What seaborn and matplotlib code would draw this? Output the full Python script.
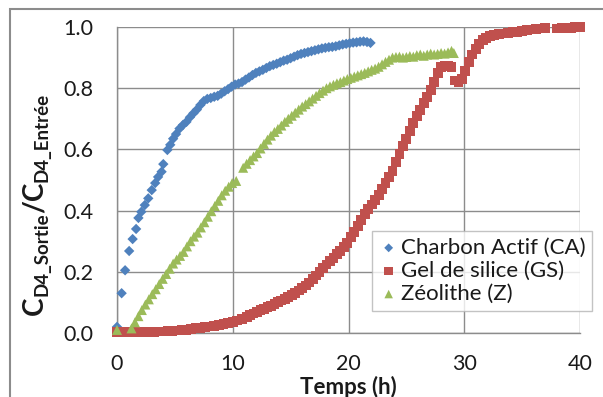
import matplotlib
matplotlib.use("Agg")
import matplotlib.pyplot as plt
from matplotlib.patches import Rectangle
import seaborn as sns
import pandas as pd

# ---------------- data ----------------
ca_t = [0.0, 0.4, 0.7, 1.05, 1.35, 1.65, 1.85, 2.1, 2.4, 2.7, 3.0, 3.3, 3.55, 3.85, 4.0,
        4.35, 4.6, 4.85, 5.1, 5.4, 5.7, 6.0, 6.3, 6.6, 6.9, 7.2, 7.5, 7.8, 8.1, 8.4, 8.7,
        9.0, 9.3, 9.6, 9.9, 10.2, 10.5, 10.8, 11.1, 11.4, 11.7, 12.0, 12.3, 12.6, 12.9,
        13.2, 13.5, 13.8, 14.1, 14.4, 14.7, 15.0, 15.3, 15.6, 15.9, 16.2, 16.5, 16.8,
        17.1, 17.4, 17.7, 18.0, 18.3, 18.6, 18.9, 19.2, 19.5, 19.8, 20.1, 20.4, 20.7,
        21.0, 21.3, 21.6, 21.9]
ca_v = [0.02, 0.13, 0.205, 0.268, 0.307, 0.34, 0.376, 0.396, 0.418, 0.44, 0.467, 0.49, 0.51,
        0.527, 0.552, 0.598, 0.615, 0.635, 0.65, 0.668, 0.68, 0.69, 0.705, 0.718, 0.73,
        0.745, 0.758, 0.765, 0.768, 0.772, 0.775, 0.782, 0.79, 0.797, 0.805, 0.812, 0.815,
        0.82, 0.828, 0.835, 0.843, 0.85, 0.855, 0.86, 0.866, 0.872, 0.876, 0.88, 0.885,
        0.89, 0.893, 0.898, 0.903, 0.908, 0.912, 0.915, 0.918, 0.921, 0.924, 0.927, 0.93,
        0.932, 0.934, 0.935, 0.937, 0.94, 0.943, 0.945, 0.947, 0.949, 0.95, 0.952, 0.953,
        0.951, 0.948]

gs_t = [0.0, 0.4, 0.8, 1.2, 1.6, 2.0, 2.4, 2.8, 3.2, 3.6, 4.0, 4.4, 4.8, 5.2, 5.6, 6.0, 6.4,
        6.8, 7.2, 7.6, 8.0, 8.4, 8.8, 9.2, 9.6, 10.0, 10.4, 10.8, 11.2, 11.5, 11.8, 12.1,
        12.4, 12.7, 13.0, 13.3, 13.6, 13.9, 14.2, 14.5, 14.8, 15.1, 15.4, 15.7, 16.0, 16.3,
        16.6, 16.9, 17.2, 17.5, 17.8, 18.1, 18.4, 18.7, 19.0, 19.3, 19.6, 19.9, 20.2, 20.5,
        20.8, 21.1, 21.4, 21.7, 22.0, 22.3, 22.6, 22.9, 23.2, 23.5, 23.8, 24.1, 24.4, 24.7,
        25.0, 25.3, 25.6, 25.9, 26.2, 26.5, 26.8, 27.1, 27.4, 27.7, 28.0, 28.3, 28.6, 28.9,
        29.2, 29.5, 29.8, 30.1, 30.4, 30.7, 31.0, 31.3, 31.6, 31.9, 32.2, 32.6, 33.0, 33.4,
        33.8, 34.2, 34.6, 35.0, 35.4, 35.8, 36.2, 36.6, 37.0, 38.0, 38.4, 38.8, 39.2, 39.6,
        40.0]
gs_v = [0.002, 0.002, 0.002, 0.002, 0.003, 0.003, 0.003, 0.004, 0.004, 0.005, 0.005, 0.006,
        0.007, 0.008, 0.009, 0.011, 0.013, 0.015, 0.017, 0.019, 0.021, 0.024, 0.027, 0.03,
        0.033, 0.037, 0.041, 0.047, 0.053, 0.058, 0.064, 0.069, 0.074, 0.079, 0.084, 0.089,
        0.094, 0.1, 0.106, 0.112, 0.118, 0.124, 0.131, 0.139, 0.146, 0.155, 0.165, 0.176,
        0.188, 0.2, 0.212, 0.224, 0.235, 0.246, 0.257, 0.268, 0.28, 0.295, 0.313, 0.331,
        0.35, 0.37, 0.388, 0.405, 0.42, 0.435, 0.452, 0.47, 0.49, 0.51, 0.53, 0.56, 0.585,
        0.61, 0.635, 0.66, 0.685, 0.71, 0.73, 0.752, 0.772, 0.793, 0.82, 0.85, 0.868, 0.872,
        0.873, 0.87, 0.825, 0.82, 0.83, 0.855, 0.885, 0.91, 0.928, 0.945, 0.957, 0.965, 0.97,
        0.974, 0.977, 0.979, 0.981, 0.983, 0.985, 0.987, 0.989, 0.992, 0.994, 0.995, 0.996,
        0.995, 0.996, 0.997, 0.998, 0.999, 0.999]

z_t = [0.0, 1.25, 1.55, 1.85, 2.15, 2.45, 2.75, 3.05, 3.35, 3.65, 3.95, 4.25, 4.55, 4.85,
       5.15, 5.45, 5.75, 6.05, 6.35, 6.65, 6.95, 7.25, 7.55, 7.85, 8.15, 8.45, 8.75, 9.05,
       9.35, 9.65, 9.95, 10.3, 10.9, 11.2, 11.5, 11.8, 12.1, 12.4, 12.7, 13.0, 13.3, 13.6,
       13.9, 14.2, 14.5, 14.8, 15.1, 15.4, 15.7, 16.0, 16.3, 16.6, 16.9, 17.2, 17.5, 17.8,
       18.1, 18.4, 18.7, 19.0, 19.3, 19.6, 19.9, 20.2, 20.5, 20.8, 21.1, 21.4, 21.7, 22.0,
       22.3, 22.6, 22.9, 23.2, 23.5, 23.8, 24.1, 24.4, 24.7, 25.0, 25.3, 25.6, 25.9, 26.2,
       26.5, 26.8, 27.1, 27.4, 27.7, 28.0, 28.3, 28.6, 28.9, 29.1]
z_v = [0.01, 0.015, 0.035, 0.055, 0.075, 0.093, 0.11, 0.127, 0.143, 0.16, 0.177, 0.193, 0.21,
       0.227, 0.24, 0.252, 0.265, 0.283, 0.3, 0.315, 0.328, 0.345, 0.362, 0.38, 0.398, 0.415,
       0.432, 0.45, 0.465, 0.478, 0.49, 0.497, 0.54, 0.553, 0.565, 0.577, 0.588, 0.603, 0.618,
       0.632, 0.645, 0.657, 0.667, 0.678, 0.69, 0.7, 0.71, 0.72, 0.73, 0.74, 0.748, 0.757,
       0.766, 0.775, 0.784, 0.792, 0.8, 0.806, 0.811, 0.816, 0.82, 0.825, 0.83, 0.834, 0.838,
       0.842, 0.846, 0.85, 0.855, 0.86, 0.864, 0.87, 0.878, 0.886, 0.893, 0.9, 0.902, 0.903,
       0.9, 0.902, 0.905, 0.903, 0.908, 0.91, 0.906, 0.91, 0.913, 0.91, 0.912, 0.915, 0.913,
       0.917, 0.922, 0.915]

series_labels = ["Charbon Actif (CA)", "Gel de silice (GS)", "Zéolithe (Z)"]
x_ticks = [0, 10, 20, 30, 40]
y_ticks = [0.0, 0.2, 0.4, 0.6, 0.8, 1.0]
x_label = "Temps (h)"
# y label pieces: (text, is_subscript)
y_label_parts = [("C", False), ("D4_Sortie", True), ("/C", False), ("D4_Entrée", True)]

# ---------------- style ----------------
sns.set_style("white")
plt.rcParams["font.family"] = ["Lato", "DejaVu Sans"]

W, H = 603, 397
colors = ["#4F81BD", "#C0504D", "#9BBB59"]
markers = ["D", "s", "^"]
sizes = [28, 50, 52]
text_col = "#1a1a1a"

fig = plt.figure(figsize=(W / 100, H / 100), dpi=100)
ax = fig.add_axes([117 / W, 1 - 333 / H, 463 / W, 306 / H])

frames = [
    pd.DataFrame({"t": ca_t, "v": ca_v}),
    pd.DataFrame({"t": gs_t, "v": gs_v}),
    pd.DataFrame({"t": z_t, "v": z_v}),
]
for df, lab, c, m, s in zip(frames, series_labels, colors, markers, sizes):
    sns.scatterplot(data=df, x="t", y="v", ax=ax, color=c, marker=m, s=s,
                    edgecolor="none", linewidth=0, label=lab, clip_on=False, zorder=3)

ax.set_xlim(0, 40)
ax.set_ylim(0, 1.0)
ax.set_xticks(x_ticks)
ax.set_xticklabels([str(v) for v in x_ticks])
ax.set_yticks(y_ticks)
ax.set_yticklabels([f"{v:.1f}" for v in y_ticks])
ax.grid(True, color="#8c8c8c", linewidth=1.0)
ax.set_axisbelow(True)
for sp in ["top", "right"]:
    ax.spines[sp].set_visible(False)
for sp in ["left", "bottom"]:
    ax.spines[sp].set_color("#8c8c8c")
    ax.spines[sp].set_linewidth(1.0)
ax.tick_params(axis="both", length=0, labelsize=15.5, colors=text_col)
ax.tick_params(axis="y", pad=17)
ax.tick_params(axis="x", pad=15)

ax.set_xlabel(x_label, fontsize=16, fontweight="bold", color=text_col)
ax.xaxis.set_label_coords(0.5, -0.14)
ax.set_ylabel("")

# composite rotated y label (big C, small subscripts)
renderer = fig.canvas.get_renderer()
ypos = 397 - 315
for txt, sub in y_label_parts:
    xb = 48 if sub else 43
    t = fig.text(xb / W, ypos / H, txt, rotation=90, rotation_mode="anchor",
                 ha="left", va="baseline", fontsize=13.5 if sub else 20,
                 fontweight="bold", color=text_col)
    ypos += t.get_window_extent(renderer).height

h, l = ax.get_legend_handles_labels()
ax.get_legend().remove()
leg = fig.legend(h, l, loc="upper left", bbox_to_anchor=(372 / W, 1 - 231 / H),
                 frameon=True, fancybox=False, edgecolor="#b4b4b4", fontsize=16,
                 handletextpad=0.1, borderpad=0.3, labelspacing=0.14,
                 handlelength=0.9, borderaxespad=0, markerscale=0.85)
leg.get_frame().set_linewidth(1.0)
for t in leg.get_texts():
    t.set_color(text_col)

fig.patches.append(Rectangle((10 / W, -0.1), 1.2, 1 - 9 / H + 0.1,
                             transform=fig.transFigure, fill=False,
                             edgecolor="#8c8c8c", linewidth=1.5))

fig.savefig("out.png", dpi=100)
